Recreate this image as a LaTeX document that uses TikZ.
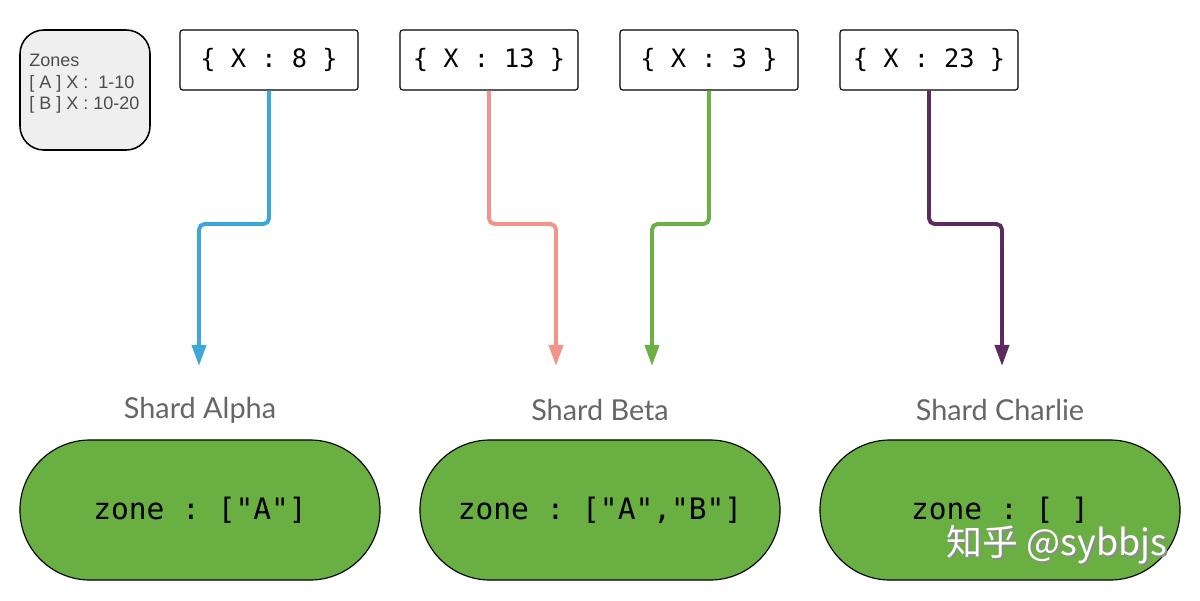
\documentclass[tikz,border=0pt]{standalone}
\usepackage{fontspec}
\setmainfont{Lato}
\setsansfont{Liberation Sans}
\setmonofont{DejaVu Sans Mono}
\newfontfamily\cjkfont{Noto Sans CJK SC}
\usetikzlibrary{arrows.meta,positioning,calc}
\definecolor{alphaBlue}{HTML}{3FA6DA}
\definecolor{betaSalmon}{HTML}{F4938A}
\definecolor{leafGreen}{HTML}{6AB045}
\definecolor{plum}{HTML}{5B2B60}
\definecolor{shardGreen}{HTML}{69AF41}
\definecolor{paleGray}{HTML}{EFEFEF}
\tikzstyle{docBox}   =[draw,thick,rounded corners=2pt,minimum width=4.45cm,minimum height=1.5cm,inner sep=0pt,font=\ttfamily\fontsize{18}{20}\selectfont]
\tikzstyle{shardPill}=[draw,thick,fill=shardGreen,rounded corners=1.75cm,minimum width=9cm,minimum height=3.5cm,inner sep=0pt,font=\ttfamily\fontsize{21}{24}\selectfont]
\tikzstyle{shardName}=[text=black!60,font=\fontsize{20.5}{24}\selectfont]
\tikzstyle{zoneKey}  =[draw,semithick,fill=paleGray,rounded corners=0.6cm,minimum width=3.25cm,minimum height=3cm]
\tikzstyle{route}    =[line width=2.8pt,rounded corners=4pt,-{Triangle[length=15pt,width=10pt]}]

\begin{document}
\begin{tikzpicture}[x=0.025cm,y=-0.025cm]
\useasboundingbox (0,0) rectangle (1200,600);
% legend
\node [zoneKey,line width=1.1pt] (zones) at (85,90) {};
\node [anchor=north west,align=left,inner sep=0pt,text=black!70,font=\sffamily\fontsize{12.8}{15.4}\selectfont] (zonesTxt) at (29,54)
  {Zones\\{[} A ] X :~~1-10\\{[} B ] X : 10-20};
% documents
\node [docBox] (d8)  at (269,60)  {\{ X : 8 \}};
\node [docBox] (d13) at (489,60)  {\{ X : 13 \}};
\node [docBox] (d3)  at (709,60)  {\{ X : 3 \}};
\node [docBox] (d23) at (929,60)  {\{ X : 23 \}};
% shards
\node [shardPill] (alpha)   at (200,510)  {zone : ["A"]};
\node [shardPill] (beta)    at (600,510)  {zone : ["A","B"]};
\node [shardPill] (charlie) at (1000,510) {zone : [ ]};
\node [shardName] (alphaName)   at (200,410)  {Shard Alpha};
\node [shardName] (betaName)    at (600,410)  {Shard Beta};
\node [shardName] (charlieName) at (1000,410) {Shard Charlie};
% arrow ends
\coordinate (elbowA) at (199,224);  \coordinate (tipA) at (199,366);
\coordinate (elbowB) at (556,224);  \coordinate (tipB) at (556,366);
\coordinate (elbowC) at (652,224);  \coordinate (tipC) at (652,366);
\coordinate (elbowD) at (1002,224); \coordinate (tipD) at (1002,366);
\draw [route,alphaBlue]  (d8.south)  |- (elbowA) -- (tipA);
\draw [route,betaSalmon] (d13.south) |- (elbowB) -- (tipB);
\draw [route,leafGreen]  (d3.south)  |- (elbowC) -- (tipC);
\draw [route,plum]       (d23.south) |- (elbowD) -- (tipD);
% watermark
\node [text=black!45,font=\cjkfont\fontsize{25.5}{30}\selectfont] (markShadow) at (1059,547) {知乎 @sybbjs};
\node [text=white,font=\cjkfont\fontsize{25.5}{30}\selectfont] (mark) at (1057,545) {知乎 @sybbjs};
\end{tikzpicture}
\end{document}
